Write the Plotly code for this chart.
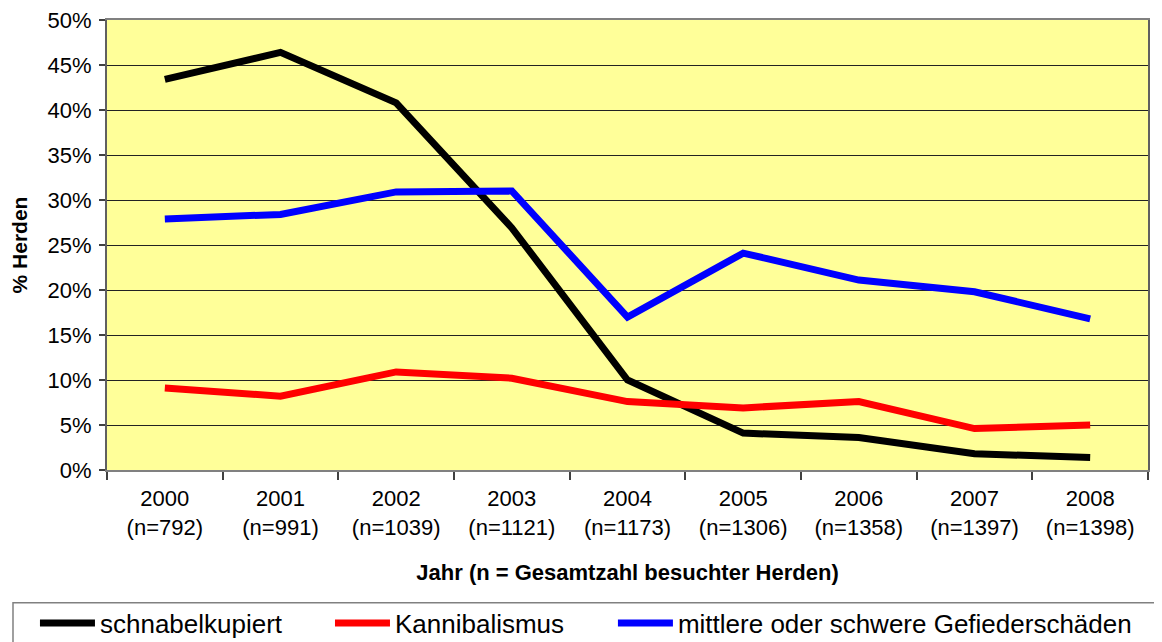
import plotly.graph_objects as go

years = ["2000", "2001", "2002", "2003", "2004", "2005", "2006", "2007", "2008"]
n_visited = [792, 991, 1039, 1121, 1173, 1306, 1358, 1397, 1398]
schnabelkupiert = [43.4, 46.4, 40.8, 26.9, 10.0, 4.1, 3.6, 1.8, 1.4]
kannibalismus = [9.1, 8.2, 10.9, 10.2, 7.6, 6.9, 7.6, 4.6, 5.0]
gefiederschaeden = [27.9, 28.4, 30.9, 31.0, 17.0, 24.1, 21.1, 19.8, 16.8]
y_ticks = [0, 5, 10, 15, 20, 25, 30, 35, 40, 45, 50]

cats = [f"{y}<br>(n={n})" for y, n in zip(years, n_visited)]

FONT = "Liberation Sans, Arial, sans-serif"

series = [
    ("schnabelkupiert", schnabelkupiert, "#000000", "legend", -0.0692),
    ("Kannibalismus", kannibalismus, "#FF0000", "legend2", 0.2142),
    ("mittlere oder schwere Gefiederschäden", gefiederschaeden, "#0000FF", "legend3", 0.486),
]

fig = go.Figure()
legends = {}
for name, vals, col, lg, lx in series:
    fig.add_trace(go.Scatter(x=cats, y=vals, mode="lines", name=name, legend=lg,
                             line=dict(color=col, width=7)))
    legends[lg] = dict(orientation="h", x=lx, xanchor="left", y=-0.34, yanchor="middle",
                       itemwidth=55, font=dict(family=FONT, size=26, color="black"),
                       bgcolor="rgba(0,0,0,0)", borderwidth=0)

# page body has an 8px margin, so margins are offset to place the plot area
fig.update_layout(
    width=1162, height=642,
    margin=dict(l=99, r=22, t=12, b=180, autoexpand=False),
    paper_bgcolor="white",
    plot_bgcolor="#FFFF99",
    font=dict(family=FONT, size=22, color="black"),
    showlegend=True,
    shapes=[dict(type="rect", xref="paper", yref="paper",
                 x0=-0.0903, x1=1.03, y0=-0.5, y1=-0.295,
                 line=dict(color="#808080", width=1.5), fillcolor="rgba(0,0,0,0)")],
    **legends,
)

fig.update_xaxes(
    type="category", range=[-0.5, 8.5], tickson="boundaries", ticks="outside", ticklen=8,
    tickcolor="#404040", tickwidth=1.5, automargin=False, ticklabelstandoff=8,
    showline=True, linecolor="#808080", linewidth=2, mirror=True,
    showgrid=False, tickfont=dict(size=22),
    title=dict(text="<b>Jahr (n = Gesamtzahl besuchter Herden)</b>",
               font=dict(size=22), standoff=26),
)
fig.update_yaxes(
    range=[0, 50], tickvals=y_ticks, ticktext=[f"{v}%" for v in y_ticks],
    ticks="outside", ticklen=6, tickcolor="#404040", tickwidth=1.5, automargin=False,
    ticklabelstandoff=3, ticklabeloverflow="allow",
    showline=True, linecolor="#606060", linewidth=2, mirror=True,
    showgrid=True, gridcolor="#222222", gridwidth=1,
    zeroline=False, tickfont=dict(size=22),
    title=dict(text="<b>% Herden</b>", font=dict(size=21), standoff=15),
)

fig.write_html("out.html")
